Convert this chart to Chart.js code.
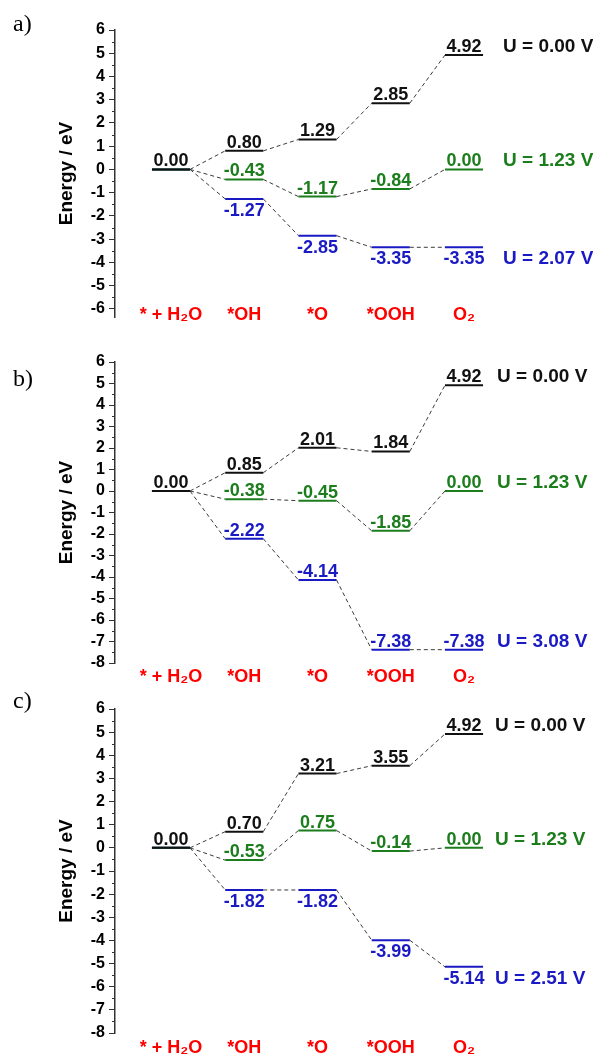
<!DOCTYPE html>
<html>
<head>
<meta charset="utf-8">
<script src="https://cdn.jsdelivr.net/npm/chart.js@4.4.0/dist/chart.umd.min.js"></script>
<style>
html, body { margin: 0; padding: 0; background: #fff; }
body { width: 593px; height: 1057px; position: relative; overflow: hidden; }
canvas { position: absolute; left: 0; }
</style>
</head>
<body>
<canvas id="chartA" width="593" height="345" style="top:0px"></canvas>
<canvas id="chartB" width="593" height="355" style="top:340px"></canvas>
<canvas id="chartC" width="593" height="377" style="top:680px"></canvas>
<script>
// reaction steps
const categories = ['* + H₂O', '*OH', '*O', '*OOH', 'O₂'];

// panel a
const potentialsA = [0.00, 1.23, 2.07];
const energyA_U0 = [0.00, 0.80, 1.29, 2.85, 4.92];
const energyA_U1 = [0.00, -0.43, -1.17, -0.84, 0.00];
const energyA_U2 = [0.00, -1.27, -2.85, -3.35, -3.35];

// panel b
const potentialsB = [0.00, 1.23, 3.08];
const energyB_U0 = [0.00, 0.85, 2.01, 1.84, 4.92];
const energyB_U1 = [0.00, -0.38, -0.45, -1.85, 0.00];
const energyB_U2 = [0.00, -2.22, -4.14, -7.38, -7.38];

// panel c
const potentialsC = [0.00, 1.23, 2.51];
const energyC_U0 = [0.00, 0.70, 3.21, 3.55, 4.92];
const energyC_U1 = [0.00, -0.53, 0.75, -0.14, 0.00];
const energyC_U2 = [0.00, -1.82, -1.82, -3.99, -5.14];

const COLORS = ['#111111', '#1b7d1b', '#1a1ac4'];
const HALF = 0.26;          // half width of a level, in step units
const FONT = '"Liberation Sans", Arial, sans-serif';

const levelLabels = {
    id: 'levelLabels',
    afterDatasetsDraw(chart, args, opts) {
        const { ctx, chartArea, scales: { x, y } } = chart;
        ctx.save();

        // minor ticks
        ctx.strokeStyle = '#333';
        ctx.lineWidth = 1;
        y.ticks.forEach(t => {
            const v = t.value + 0.5;
            if (v > y.max) return;
            const py = Math.round(y.getPixelForValue(v)) + 0.5;
            ctx.beginPath();
            ctx.moveTo(chartArea.left - 3, py);
            ctx.lineTo(chartArea.left, py);
            ctx.stroke();
        });

        ctx.textBaseline = 'alphabetic';
        opts.series.forEach((s, k) => {
            ctx.fillStyle = s.color;
            ctx.font = 'bold 18px ' + FONT;
            ctx.textAlign = 'center';
            const off = s.below ? 17 : -3;
            s.values.forEach((v, i) => {
                if (i === 0 && k > 0) return;
                ctx.fillText(v.toFixed(2), x.getPixelForValue(i), y.getPixelForValue(v) + off);
            });
            const last = s.values.length - 1;
            ctx.font = 'bold 19px ' + FONT;
            ctx.textAlign = 'left';
            ctx.fillText('U = ' + s.potential.toFixed(2) + ' V',
                x.getPixelForValue(last + HALF) + opts.uGap,
                y.getPixelForValue(s.values[last]) + off);
        });

        // panel letter
        ctx.fillStyle = '#000';
        ctx.font = '24px "Liberation Serif", "Times New Roman", serif';
        ctx.textAlign = 'left';
        ctx.fillText(opts.letter, 13, opts.letterY);
        ctx.restore();
    }
};

function makeChart(id, panel) {
    const series = panel.energies.map((vals, k) => ({
        values: vals,
        potential: panel.potentials[k],
        color: COLORS[k],
        below: panel.below[k]
    }));

    const datasets = series.map(s => {
        const pts = [];
        s.values.forEach((v, i) => {
            pts.push({ x: i - HALF, y: v });
            pts.push({ x: i + HALF, y: v });
        });
        return {
            data: pts,
            borderColor: s.color,
            borderWidth: 2,
            pointRadius: 0,
            tension: 0,
            segment: {
                borderColor: c => c.p0DataIndex % 2 ? '#3a3a3a' : s.color,
                borderDash: c => c.p0DataIndex % 2 ? [4, 3] : [],
                borderWidth: c => c.p0DataIndex % 2 ? 1 : 2
            }
        };
    });

    return new Chart(document.getElementById(id), {
        type: 'line',
        data: { datasets },
        options: {
            responsive: false,
            animation: false,
            layout: { padding: { left: 0, right: 0, top: panel.padTop, bottom: panel.padBottom } },
            plugins: {
                legend: { display: false },
                tooltip: { enabled: false },
                levelLabels: { series, uGap: panel.uGap, letter: panel.letter, letterY: panel.letterY }
            },
            scales: {
                x: {
                    type: 'linear',
                    position: { y: panel.yMin },
                    min: -0.7645,
                    max: 5.761,
                    grid: { display: false, drawTicks: false },
                    border: { display: false },
                    ticks: {
                        stepSize: 1,
                        autoSkip: false,
                        maxRotation: 0,
                        includeBounds: false,
                        padding: panel.catPad,
                        color: '#ff0000',
                        font: { family: FONT, size: 18, weight: 'bold' },
                        callback: v => categories[v] ?? ''
                    }
                },
                y: {
                    min: panel.yMin,
                    max: 6,
                    afterFit: s => { s.width = 115; },
                    grid: { drawOnChartArea: false, drawTicks: true, tickLength: 6, color: '#333' },
                    border: { display: true, color: '#333', width: 1.5 },
                    title: {
                        display: true,
                        text: 'Energy / eV',
                        color: '#000',
                        padding: { top: 55, bottom: 0 },
                        font: { family: FONT, size: 19, weight: 'bold' }
                    },
                    ticks: {
                        stepSize: 1,
                        autoSkip: false,
                        includeBounds: false,
                        padding: 4,
                        color: '#000',
                        font: { family: FONT, size: 16, weight: 'bold' }
                    }
                }
            }
        },
        plugins: [levelLabels]
    });
}

makeChart('chartA', {
    energies: [energyA_U0, energyA_U1, energyA_U2],
    potentials: potentialsA,
    below: [false, false, true],
    yMin: -6.35, padTop: 30, padBottom: 28, catPad: -13,
    uGap: 20, letter: 'a)', letterY: 31
});
makeChart('chartB', {
    energies: [energyB_U0, energyB_U1, energyB_U2],
    potentials: potentialsB,
    below: [false, false, false],
    yMin: -8, padTop: 22, padBottom: 32, catPad: 3,
    uGap: 14, letter: 'b)', letterY: 46
});
makeChart('chartC', {
    energies: [energyC_U0, energyC_U1, energyC_U2],
    potentials: potentialsC,
    below: [false, false, true],
    yMin: -8, padTop: 29, padBottom: 24, catPad: 4,
    uGap: 12, letter: 'c)', letterY: 28
});
</script>
</body>
</html>
